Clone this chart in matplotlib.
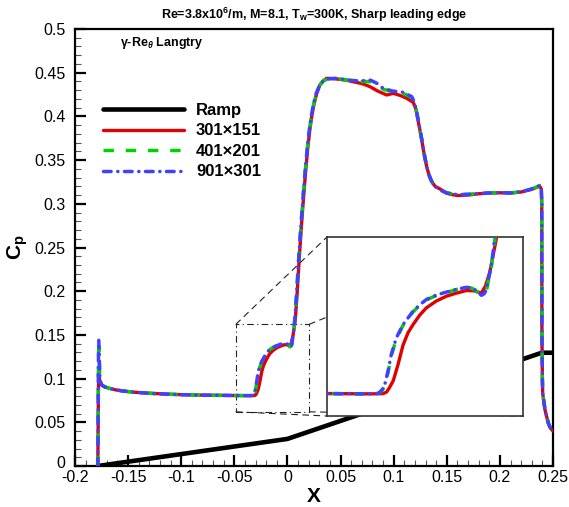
import matplotlib
matplotlib.use("Agg")
import matplotlib.pyplot as plt
from matplotlib.ticker import MultipleLocator
from matplotlib.transforms import ScaledTranslation

plt.rcParams['font.family'] = ['Liberation Sans', 'DejaVu Sans']
plt.rcParams['mathtext.fontset'] = 'custom'
plt.rcParams['mathtext.rm'] = 'Liberation Sans:bold'
plt.rcParams['mathtext.bf'] = 'Liberation Sans:bold'
plt.rcParams['mathtext.it'] = 'Liberation Sans:italic:bold'

# ---------------- data ----------------
ramp_x = [-0.1785, 0.0, 0.2394, 0.26]
ramp_y = [0.0, 0.031, 0.1296, 0.1296]

blue_x = [-0.1785, -0.1783, -0.1781, -0.1779, -0.1776, -0.1772, -0.1765, -0.175, -0.172, -0.168,
          -0.162, -0.155, -0.145, -0.13, -0.115, -0.1, -0.08, -0.06, -0.045, -0.035,
          -0.0325, -0.0312, -0.0304, -0.0293, -0.0282, -0.0265, -0.0242, -0.0208, -0.0185, -0.0163,
          -0.0135, -0.0106, -0.0080, -0.0060, -0.0027, -0.0010, 0.0001, 0.0013, 0.0024, 0.0033,
          0.0041, 0.0058, 0.0069, 0.0085, 0.0105, 0.0125,
          0.0145, 0.0165, 0.0185, 0.0205, 0.0225, 0.0245, 0.0270, 0.0300, 0.0340, 0.0400,
          0.0460, 0.0550, 0.0620, 0.0683, 0.0740, 0.0780, 0.0840, 0.0903, 0.0990, 0.1090,
          0.1170, 0.1200, 0.1220, 0.1245, 0.1270, 0.1295, 0.1320, 0.1345, 0.1370, 0.1400,
          0.1450, 0.1500, 0.1600, 0.1700, 0.1800, 0.1900, 0.2000, 0.2100, 0.2200, 0.2300,
          0.2350, 0.2375, 0.2390, 0.2394, 0.2396, 0.2400, 0.2403, 0.2425, 0.2456, 0.2478,
          0.2500]
blue_cp = [0.0, 0.04, 0.09, 0.13, 0.144, 0.125, 0.100, 0.0927, 0.0905, 0.0890,
           0.0872, 0.0858, 0.0845, 0.0832, 0.0823, 0.0816, 0.0811, 0.0808, 0.0806, 0.0805,
           0.0808, 0.0830, 0.0857, 0.0932, 0.1026, 0.1120, 0.1196, 0.1271, 0.1308, 0.1337,
           0.1358, 0.1374, 0.1386, 0.1395, 0.1406, 0.1404, 0.1393, 0.1377, 0.1361, 0.1370,
           0.1393, 0.1535, 0.1676, 0.195, 0.235, 0.272,
           0.305, 0.335, 0.362, 0.384, 0.401, 0.414, 0.426, 0.435, 0.4410, 0.4432,
           0.4436, 0.4420, 0.4410, 0.4405, 0.4412, 0.4415, 0.4380, 0.4320, 0.4290, 0.4276,
           0.4226, 0.4150, 0.4030, 0.3870, 0.3700, 0.3520, 0.3380, 0.3290, 0.3230, 0.3190,
           0.3150, 0.3125, 0.3105, 0.3108, 0.3118, 0.3125, 0.3128, 0.3125, 0.3138, 0.3170,
           0.3195, 0.3210, 0.3180, 0.3000, 0.1500, 0.1000, 0.0830, 0.0640, 0.0490, 0.0430,
           0.0400]

green_x = blue_x
green_cp = [0.0, 0.04, 0.09, 0.12, 0.135, 0.118, 0.099, 0.0927, 0.0905, 0.0890,
            0.0872, 0.0858, 0.0845, 0.0832, 0.0823, 0.0816, 0.0811, 0.0808, 0.0806, 0.0805,
            0.0807, 0.0826, 0.0852, 0.0925, 0.1018, 0.1114, 0.1192, 0.1268, 0.1305, 0.1335,
            0.1356, 0.1372, 0.1384, 0.1394, 0.1404, 0.1402, 0.1392, 0.1376, 0.1362, 0.1369,
            0.1390, 0.1530, 0.1670, 0.194, 0.234, 0.271,
            0.304, 0.334, 0.361, 0.383, 0.400, 0.413, 0.425, 0.435, 0.4410, 0.4432,
            0.4434, 0.4418, 0.4405, 0.4398, 0.4400, 0.4395, 0.4365, 0.4310, 0.4282, 0.4262,
            0.4216, 0.4140, 0.4025, 0.3865, 0.3700, 0.3520, 0.3380, 0.3290, 0.3230, 0.3190,
            0.3150, 0.3125, 0.3105, 0.3108, 0.3118, 0.3125, 0.3128, 0.3125, 0.3138, 0.3170,
            0.3195, 0.3210, 0.3180, 0.3000, 0.1500, 0.1000, 0.0830, 0.0640, 0.0490, 0.0430,
            0.0400]

red_x = [-0.1785, -0.1782, -0.1779, -0.1776, -0.1770, -0.1765, -0.175, -0.172, -0.168,
         -0.162, -0.155, -0.145, -0.13, -0.115, -0.1, -0.08, -0.06, -0.045, -0.035,
         -0.0310, -0.0298, -0.0288, -0.0275, -0.0259, -0.0242, -0.0225, -0.0208, -0.0185, -0.0163,
         -0.0130, -0.0095, -0.0060, -0.0027, 0.0000, 0.0024, 0.0038, 0.0052, 0.0074,
         0.0090, 0.0110, 0.0130, 0.0150, 0.0170, 0.0190,
         0.0210, 0.0230, 0.0250, 0.0275, 0.0305, 0.0340, 0.0370, 0.0450, 0.0550, 0.0625,
         0.0683, 0.0715, 0.0777, 0.0850, 0.0934, 0.0997, 0.1060, 0.1123, 0.1185, 0.1210,
         0.1235, 0.1260, 0.1285, 0.1310, 0.1335, 0.1360, 0.1390, 0.1450, 0.1500, 0.1550,
         0.1600, 0.1700, 0.1800, 0.1900, 0.2000, 0.2100, 0.2200, 0.2300, 0.2350, 0.2375,
         0.2390, 0.2394, 0.2396, 0.2400, 0.2403, 0.2425, 0.2456, 0.2478, 0.2500]
red_cp = [0.0, 0.05, 0.09, 0.105, 0.100, 0.097, 0.093, 0.0905, 0.0890,
          0.0872, 0.0858, 0.0845, 0.0832, 0.0823, 0.0816, 0.0811, 0.0808, 0.0806, 0.0805,
          0.0806, 0.0815, 0.0840, 0.0880, 0.0970, 0.1080, 0.1150, 0.1196, 0.1250, 0.1290,
          0.1328, 0.1356, 0.1374, 0.1388, 0.1386, 0.1374, 0.1415, 0.1490, 0.1676,
          0.195, 0.235, 0.272, 0.305, 0.335, 0.362,
          0.384, 0.401, 0.414, 0.426, 0.436, 0.441, 0.4436, 0.4430, 0.4415, 0.4395,
          0.4380, 0.4370, 0.4340, 0.4290, 0.4245, 0.4264, 0.4240, 0.4207, 0.4160, 0.4080,
          0.3920, 0.3760, 0.3580, 0.3430, 0.3320, 0.3250, 0.3200, 0.3160, 0.3120, 0.3105,
          0.3095, 0.3100, 0.3115, 0.3122, 0.3126, 0.3122, 0.3135, 0.3165, 0.3190, 0.3200,
          0.3170, 0.3000, 0.1500, 0.1000, 0.0830, 0.0640, 0.0490, 0.0430, 0.0400]

labels = ['Ramp', '301\u00d7151', '401\u00d7201', '901\u00d7301']
xticks = [-0.2, -0.15, -0.1, -0.05, 0, 0.05, 0.1, 0.15, 0.2, 0.25]
xticklabels = ['-0.2', '-0.15', '-0.1', '-0.05', '0', '0.05', '0.1', '0.15', '0.2', '0.25']
yticks = [0, 0.05, 0.1, 0.15, 0.2, 0.25, 0.3, 0.35, 0.4, 0.45, 0.5]
yticklabels = ['0', '0.05', '0.1', '0.15', '0.2', '0.25', '0.3', '0.35', '0.4', '0.45', '0.5']

# zoom window (main) and inset placement / limits
rect_x = [-0.0487, 0.0203]
rect_y = [0.062, 0.162]
inset_box = [0.0372, 0.0572, 0.1846, 0.2048]
inset_xlim = [-0.050, 0.0165]
inset_ylim = [0.068, 0.169]

RED = '#e00000'
GREEN = '#00d200'
BLUE = '#4040ff'

# ---------------- figure ----------------
fig = plt.figure(figsize=(5.69, 5.07), dpi=100)
ax = fig.add_axes([75/569, 41/507, 478/569, 437/507])


def draw_series(a, legend=True):
    a.plot(ramp_x, ramp_y, color='black', lw=3.3, solid_capstyle='round',
           label=labels[0] if legend else None, zorder=2)
    a.plot(red_x, red_cp, color=RED, lw=2.4, solid_capstyle='round',
           solid_joinstyle='round', label=labels[1] if legend else None, zorder=3)
    a.plot(green_x, green_cp, color=GREEN, lw=2.5, linestyle=(0, (3.0, 3.4)),
           label=labels[2] if legend else None, zorder=4)
    a.plot(blue_x, blue_cp, color=BLUE, lw=2.5, linestyle=(0, (2.2, 1.9, 0.05, 1.9)),
           dash_capstyle='round', label=labels[3] if legend else None, zorder=5)


draw_series(ax)

ax.set_xlim(-0.2, 0.25)
ax.set_ylim(0, 0.5)
ax.set_xticks(xticks)
ax.set_xticklabels(xticklabels)
ax.set_yticks(yticks)
ax.set_yticklabels(yticklabels)
ax.xaxis.set_minor_locator(MultipleLocator(0.01))
ax.yaxis.set_minor_locator(MultipleLocator(0.01))
ax.tick_params(which='major', direction='in', length=8, width=1.6, labelsize=11.5,
               top=False, right=False)
ax.tick_params(which='minor', direction='in', length=4, width=0.8, color='#555555',
               top=False, right=False)
ax.tick_params(axis='x', which='major', pad=3)
ax.tick_params(axis='y', which='major', pad=7)
for s in ax.spines.values():
    s.set_linewidth(1.6)

# nudge the y "0" label slightly up so it clears the x "-0.2" label
zero_lab = ax.get_yticklabels()[0]
zero_lab.set_transform(zero_lab.get_transform() + ScaledTranslation(0, 4/100, fig.dpi_scale_trans))

ax.set_xlabel('X', fontsize=15, fontweight='bold', labelpad=1)
ax.set_ylabel(r'C$_\mathrm{p}$', fontsize=15, fontweight='bold')
ax.yaxis.set_label_coords(-0.095, 0.5)
ax.set_title(r'Re=3.8x10$^{\mathrm{6}}$/m, M=8.1, T$_{\mathrm{w}}$=300K, Sharp leading edge',
             fontsize=9, fontweight='bold', pad=7)
ax.text(0.094, 0.967, '\u03b3-Re$_{\\theta}$ Langtry', transform=ax.transAxes,
        fontsize=9, fontweight='bold', ha='left', va='center')

leg = ax.legend(loc='upper left', bbox_to_anchor=(0.058, 0.831), frameon=False,
                borderaxespad=0, borderpad=0, handlelength=4.9, handletextpad=0.7,
                labelspacing=0.33, prop={'weight': 'bold', 'size': 12})

# zoom rectangle and connectors
ax.plot([rect_x[0], rect_x[1], rect_x[1], rect_x[0], rect_x[0]],
        [rect_y[0], rect_y[0], rect_y[1], rect_y[1], rect_y[0]],
        color='#222222', lw=0.8, linestyle=(0, (6, 3, 1, 3)), zorder=1.5)
ix0, iy0, iw, ih = inset_box
for (cx, cy), (px, py) in [((rect_x[0], rect_y[1]), (ix0, iy0 + ih)),
                           ((rect_x[1], rect_y[1]), (ix0 + iw, iy0 + ih)),
                           ((rect_x[0], rect_y[0]), (ix0, iy0)),
                           ((rect_x[1], rect_y[0]), (ix0 + iw, iy0))]:
    ax.plot([cx, px], [cy, py], color='#222222', lw=0.8, linestyle=(0, (6, 4)), zorder=1.5)

ins = ax.inset_axes(inset_box, transform=ax.transData)
draw_series(ins, legend=False)
ins.set_xlim(*inset_xlim)
ins.set_ylim(*inset_ylim)
ins.set_xticks([])
ins.set_yticks([])
ins.set_facecolor('white')
for s in ins.spines.values():
    s.set_linewidth(1.2)
    s.set_color('#333333')

fig.savefig('out.png', dpi=100)
